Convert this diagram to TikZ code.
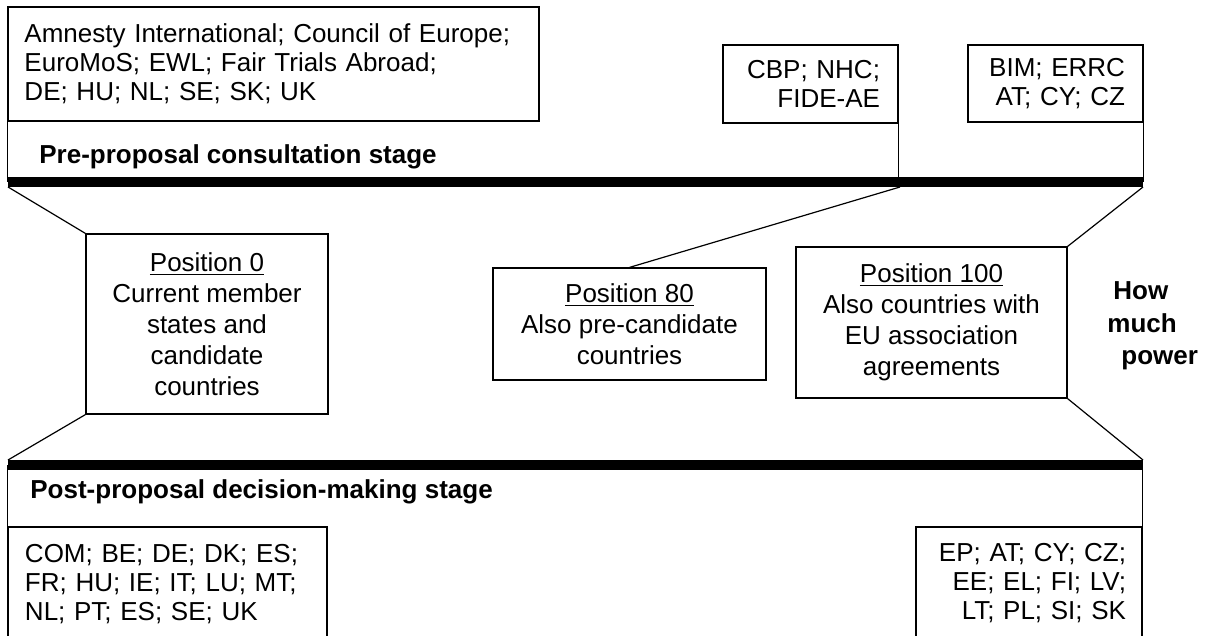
\documentclass[tikz,border=0pt]{standalone}
\usepackage{fontspec}
\setmainfont{Liberation Sans}
\begin{document}
\begin{tikzpicture}[x=0.5pt,y=-0.5pt,
  lw/.style={line width=0.6pt},
  listbox/.style={draw, lw, inner sep=0pt, font=\fontsize{13}{14.5}\selectfont},
  posbox/.style={draw, lw, inner sep=0pt, align=center, font=\fontsize{13}{15.5}\selectfont},
  stagelabel/.style={anchor=west, inner sep=0pt, font=\fontsize{13}{15.5}\selectfont\bfseries},
  stagebar/.style={line width=5pt, line cap=butt},
  link/.style={lw}]
\useasboundingbox (0,0) rectangle (1214,636);
\fill[white] (0,0) rectangle (1214,636);

% upper list boxes
\node[listbox, minimum width=265.5pt, minimum height=57pt, text width=249pt, align=left] (amn) at (273.5,64)
  {Amnesty International; Council of Europe;\\EuroMoS; EWL; Fair Trials Abroad;\\DE; HU; NL; SE; SK; UK};
\node[listbox, minimum width=87.5pt, minimum height=39pt, text width=69.5pt, align=right] (cbp) at (810.5,84)
  {CBP; NHC;\\FIDE-AE};
\node[listbox, minimum width=87.5pt, minimum height=38.5pt, text width=69.5pt, align=right] (bim) at (1055.5,83.5)
  {BIM; ERRC\\AT; CY; CZ};

\node[stagelabel] (pre) at (39,157) {Pre-proposal consultation stage};

% upper bar
\coordinate (barAL) at (8,182);
\coordinate (barAR) at (1143,182);
\draw[stagebar] (barAL) -- (barAR);
\draw[link] (amn.south west) -- (amn.south west |- barAL);
\draw[link] (cbp.south east) -- (cbp.south east |- barAL);
\draw[link] (bim.south east) -- (bim.south east |- barAL);

% position boxes
\node[posbox, minimum width=121pt, minimum height=90pt] (p0) at (207,324)
  {\underline{Position 0}\\Current member\\states and\\candidate\\countries};
\node[posbox, minimum width=136.5pt, minimum height=56pt] (p80) at (629.5,324)
  {\underline{Position 80}\\Also pre-candidate\\countries};
\node[posbox, minimum width=135.5pt, minimum height=75.5pt] (p100) at (931.5,322.5)
  {\underline{Position 100}\\Also countries with\\EU association\\agreements};

\coordinate (aL) at (8,187);
\coordinate (aM) at (900,187);
\coordinate (aR) at (1143,187);
\draw[link] (aL) -- (p0.north west);
\draw[link] (aM) -- (p80.north);
\draw[link] (aR) -- (p100.north east);

% lower bar
\coordinate (barBL) at (8,465);
\coordinate (barBR) at (1143,465);
\draw[stagebar] (barBL) -- (barBR);
\coordinate (cL) at (8,460);
\coordinate (cR) at (1143,460);
\draw[link] (p0.south west) -- (cL);
\draw[link] (p100.south east) -- (cR);

\node[stagelabel] (post) at (30,492) {Post-proposal decision-making stage};

% lower list boxes
\node[listbox, minimum width=159.5pt, minimum height=57pt, text width=142.5pt, align=left] (com) at (167.5,584)
  {COM; BE; DE; DK; ES;\\FR; HU; IE; IT; LU; MT;\\NL; PT; ES; SE; UK};
\node[listbox, minimum width=113pt, minimum height=56pt, text width=97pt, align=right] (ep) at (1029,583)
  {EP; AT; CY; CZ;\\EE; EL; FI; LV;\\LT; PL; SI; SK};
\draw[link] (com.north west |- barBL) -- (com.north west);
\draw[link] (ep.north east |- barBR) -- (ep.north east);

% side label
\node[anchor=west, inner sep=0pt, align=left, font=\fontsize{13}{16.25}\selectfont\bfseries] (power) at (1107,326)
  {\hspace*{3pt}How\\much\\\hspace*{7pt}power};
\end{tikzpicture}
\end{document}
